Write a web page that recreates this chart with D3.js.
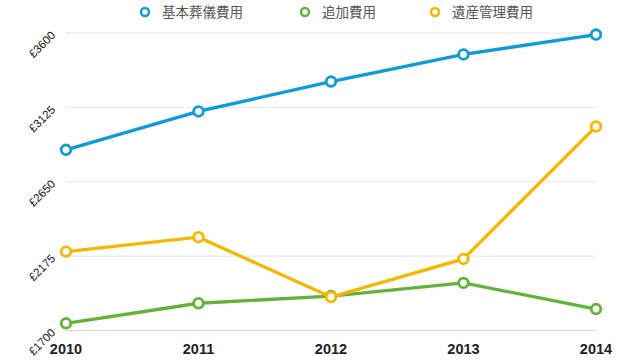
<!DOCTYPE html>
<html><head><meta charset="utf-8">
<script src="https://cdn.jsdelivr.net/npm/d3@7"></script>
<style>
body{margin:0;background:#fff;}
svg{display:block;}
</style></head>
<body><svg id="c" width="640" height="360"></svg>
<script>
const years = ["2010","2011","2012","2013","2014"];
const seriesNames = ["基本葬儀費用","追加費用","遺産管理費用"];
const basicFuneral = [2854, 3099, 3290, 3463, 3590];
const additional = [1746, 1874, 1920, 2004, 1837];
const estateAdmin = [2204, 2296, 1914, 2157, 3003];
const yTicks = [1700, 2175, 2650, 3125, 3600];
const colors = ["#0f9bd7", "#62b33a", "#f5b800"];

const series = [basicFuneral, additional, estateAdmin];
const svg = d3.select("#c");
const x = d3.scalePoint().domain(years).range([66, 596]);
const y = d3.scaleLinear().domain([1700, 3600]).range([330.5, 33]);

// gridlines
svg.append("g").selectAll("line").data(yTicks).join("line")
  .attr("x1", 66).attr("x2", 596)
  .attr("y1", d => y(d)).attr("y2", d => y(d))
  .attr("stroke", d => d === 1700 ? "#ffcccc" : "#e6e6e6")
  .attr("stroke-width", 1);

// y labels
svg.append("g").selectAll("text").data(yTicks).join("text")
  .attr("transform", d => `translate(56,${y(d) + 3}) rotate(-45)`)
  .attr("text-anchor", "end")
  .attr("font-family", "Liberation Sans, Arial, sans-serif")
  .attr("font-size", 11.5)
  .attr("fill", "#111")
  .text(d => "£" + d);

// x labels
svg.append("g").selectAll("text").data(years).join("text")
  .attr("x", d => x(d)).attr("y", 354)
  .attr("text-anchor", "middle")
  .attr("font-family", "Liberation Sans, Arial, sans-serif")
  .attr("font-weight", "bold")
  .attr("font-size", 14.5)
  .attr("fill", "#222")
  .text(d => d);

const line = d3.line().x((d, i) => x(years[i])).y(d => y(d));
series.forEach((s, k) => {
  const g = svg.append("g");
  g.append("path").datum(s).attr("d", line)
    .attr("fill", "none").attr("stroke", colors[k]).attr("stroke-width", 3.3);
  g.selectAll("circle").data(s).join("circle")
    .attr("cx", (d, i) => x(years[i])).attr("cy", d => y(d))
    .attr("r", 4.8).attr("fill", "#fff")
    .attr("stroke", colors[k]).attr("stroke-width", 2.8);
});

// legend
const legX = [145, 305, 435];
const leg = svg.append("g");
seriesNames.forEach((n, k) => {
  leg.append("circle").attr("cx", legX[k]).attr("cy", 12).attr("r", 4)
    .attr("fill", "#fff").attr("stroke", colors[k]).attr("stroke-width", 2.5);
  leg.append("text").attr("x", legX[k] + 17).attr("y", 17)
    .attr("font-family", "Noto Sans CJK JP, sans-serif")
    .attr("font-size", 13.5).attr("fill", "#555").text(n);
});
</script></body></html>
